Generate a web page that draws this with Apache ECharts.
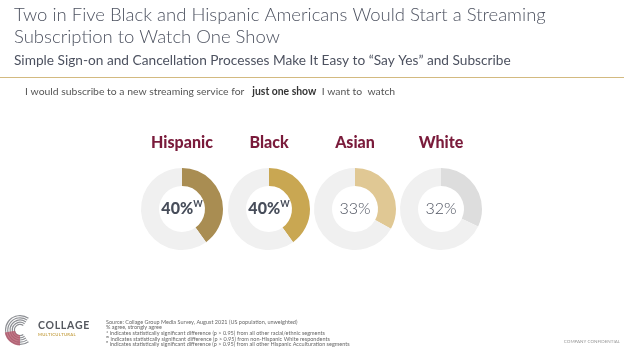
<!DOCTYPE html>
<html>
<head>
<meta charset="utf-8">
<title>Streaming subscription for one show</title>
<script src="https://cdn.jsdelivr.net/npm/echarts@6/dist/echarts.min.js"></script>
<style>
  html, body { margin: 0; padding: 0; background: #fff; }
  #chart { width: 624px; height: 351px; }
</style>
</head>
<body>
<div id="chart"></div>
<script>
// --- Data ---
const groups = ["Hispanic", "Black", "Asian", "White"];
const values = [40, 40, 33, 32];
const sigMarks = ["W", "W", "", ""];
const ringColors = ["#A98D52", "#C9A752", "#E0C894", "#DDDDDD"];

const titleLines = [
  "Two in Five Black and Hispanic Americans Would Start a Streaming",
  "Subscription to Watch One Show"
];
const subtitle = "Simple Sign-on and Cancellation Processes Make It Easy to \u201cSay Yes\u201d and Subscribe";
const footnotes = [
  "Source: Collage Group Media Survey, August 2021 (US population, unweighted)",
  "% agree, strongly agree",
  "* indicates statistically significant difference (p > 0.95) from all other racial/ethnic segments",
  "\u1D42 indicates statistically significant difference (p > 0.95) from non-Hispanic White respondents",
  "\u1D34 indicates statistically significant difference (p > 0.95) from all other Hispanic Acculturation segments"
];

// --- Layout ---
const centersX = [182, 269, 355, 441];
const centerY = 209;
const FONT = "Lato, 'Open Sans', sans-serif";

const chart = echarts.init(document.getElementById("chart"), null, { renderer: "canvas" });

// one donut per group, value + remainder
const series = groups.map((g, i) => {
  const strong = sigMarks[i] !== "";
  return {
    type: "pie",
    name: g,
    center: [centersX[i], centerY],
    radius: [23, 41],
    startAngle: 90,
    clockwise: true,
    silent: true,
    animation: false,
    label: {
      show: true,
      position: "center",
      formatter: () => strong ? `{v|${values[i]}%}{s|${sigMarks[i]}}` : `{n|${values[i]}%}`,
      rich: {
        v: { fontFamily: FONT, fontSize: 16, fontWeight: 900, color: "#474d5a" },
        s: { fontFamily: FONT, fontSize: 9, fontWeight: "bold", color: "#474d5a", padding: [0, 0, 9, 0] },
        n: { fontFamily: FONT, fontSize: 16, fontWeight: 300, color: "#4f5461" }
      }
    },
    labelLine: { show: false },
    data: [
      { value: values[i], itemStyle: { color: ringColors[i] } },
      { value: 100 - values[i], itemStyle: { color: "#F0F0F0" }, label: { show: false } }
    ]
  };
});

// group names above donuts
const groupTitles = groups.map((g, i) => ({
  type: "text",
  x: centersX[i],
  y: 151,
  style: {
    text: g,
    fill: "#7A1B3B",
    font: `900 16px ${FONT}`,
    textAlign: "center",
    textVerticalAlign: "bottom"
  }
}));

const footText = footnotes.map((t, i) => ({
  type: "text",
  x: 106,
  y: 325 + i * 5.6,
  style: { text: t, fill: "#666", font: `5.5px ${FONT}`, textVerticalAlign: "bottom" }
}));

// rough Collage logo: striped "C" with a red lower-left section
const logoArcs = [];
for (let k = 0; k < 5; k++) {
  logoArcs.push({
    type: "sector",
    shape: { cx: 20, cy: 330, r0: 5 + k * 2.2, r: 6.2 + k * 2.2, startAngle: Math.PI * 0.3, endAngle: Math.PI * 1.7, clockwise: true },
    style: { fill: "#8d8f94" }
  });
}
logoArcs.push({
  type: "sector",
  shape: { cx: 20, cy: 330, r0: 5, r: 15.4, startAngle: Math.PI * 0.5, endAngle: Math.PI * 0.95, clockwise: true },
  style: { fill: "#b5566a", opacity: 0.8 }
});

const hair = "\u200A";

chart.setOption({
  backgroundColor: "#ffffff",
  series,
  graphic: [
    {
      type: "text", x: 14, y: 25,
      style: { text: titleLines[0], fill: "#4d5260", font: `300 18.5px ${FONT}`, textVerticalAlign: "bottom" }
    },
    {
      type: "text", x: 14, y: 47,
      style: { text: titleLines[1], fill: "#4d5260", font: `300 18.5px ${FONT}`, textVerticalAlign: "bottom" }
    },
    {
      type: "text", x: 14, y: 68,
      style: { text: subtitle, fill: "#4d5260", font: `13.7px ${FONT}`, textVerticalAlign: "bottom" }
    },
    {
      type: "line",
      shape: { x1: 0, y1: 77.5, x2: 624, y2: 77.5 },
      style: { stroke: "#D3BA80", lineWidth: 1 }
    },
    {
      type: "text", x: 25, y: 97,
      style: {
        text: "I would subscribe to a new streaming service for   {b|just one show}  I want to  watch",
        fill: "#555",
        font: `10.4px ${FONT}`,
        textVerticalAlign: "bottom",
        rich: { b: { fontFamily: FONT, fontSize: 10.4, fontWeight: "bold", fill: "#333" } }
      }
    },
    ...groupTitles,
    ...footText,
    ...logoArcs,
    {
      type: "text", x: 38, y: 331,
      style: { text: "COLLAGE".split("").join(hair), fill: "#55585f", font: `bold 10.5px ${FONT}`, textVerticalAlign: "bottom" }
    },
    {
      type: "text", x: 38, y: 337,
      style: { text: "MULTICULTURAL".split("").join(hair), fill: "#c9a752", font: `bold 4.2px ${FONT}`, textVerticalAlign: "bottom" }
    },
    {
      type: "text", x: 620, y: 344,
      style: { text: "COMPANY CONFIDENTIAL", fill: "#999", font: `4.5px ${FONT}`, textAlign: "right", textVerticalAlign: "bottom" }
    }
  ]
});
</script>
</body>
</html>
